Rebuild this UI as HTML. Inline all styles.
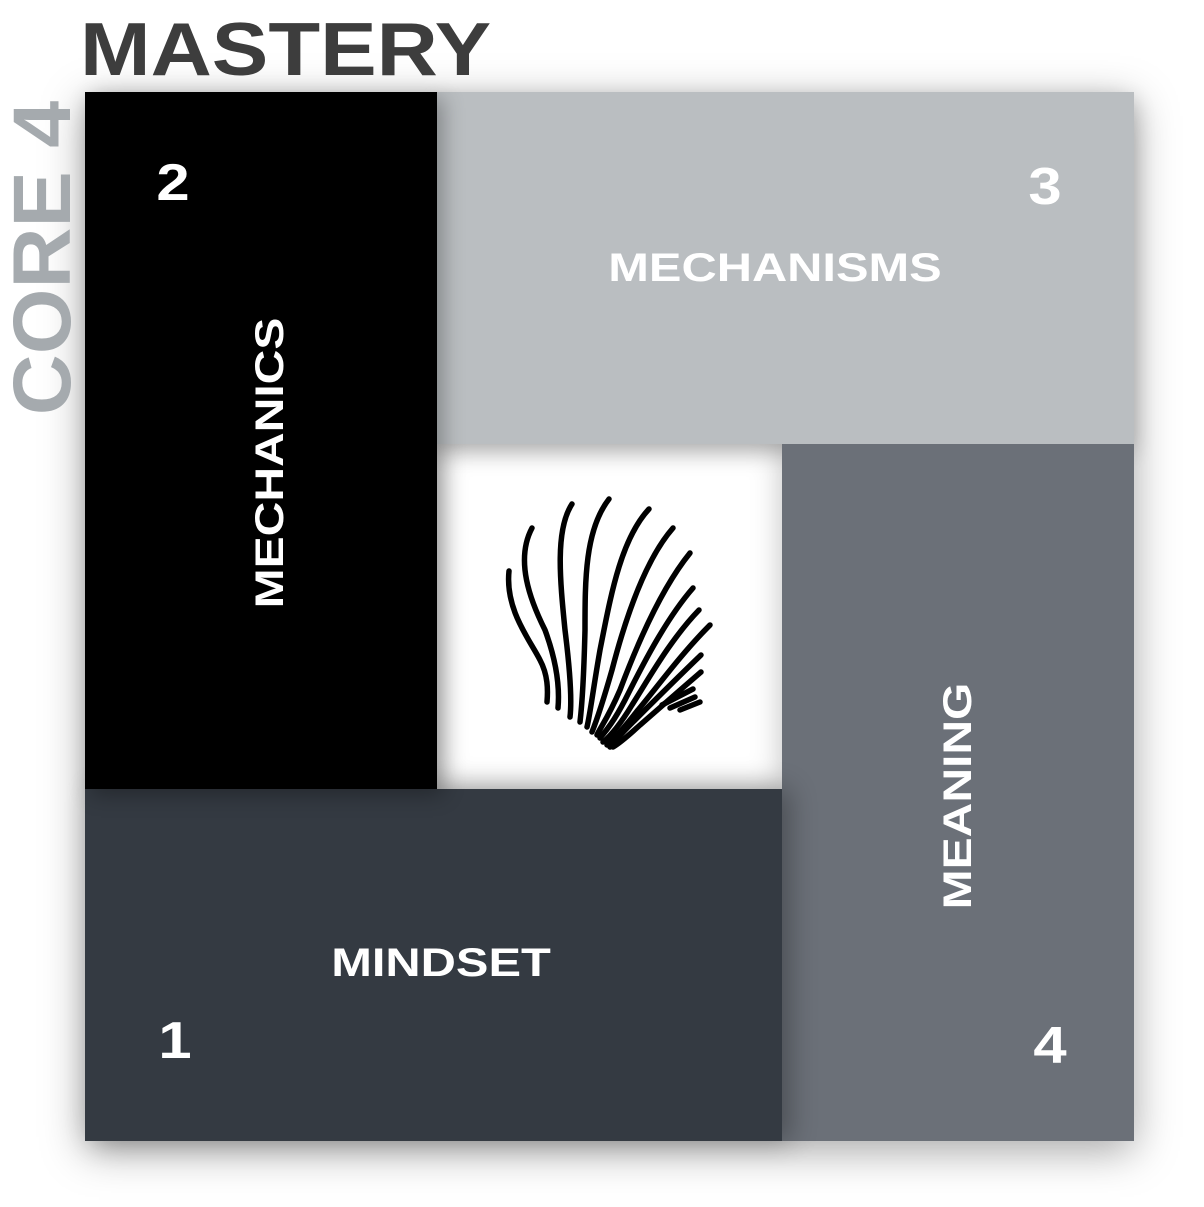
<!DOCTYPE html>
<html><head><style>
body{margin:0;width:1204px;height:1207px;background:#fff;position:relative;overflow:hidden;font-family:"Liberation Sans",sans-serif;font-weight:bold}
.b{position:absolute}
.t{position:absolute;color:#fff;white-space:nowrap}
.n{position:absolute;color:#fff;font-size:52px;line-height:52px;transform:translate(-50%,-50%) scaleX(1.15)}
</style></head><body>
<div class="b" style="left:85px;top:92px;width:1049px;height:1049px;box-shadow:0 10px 40px rgba(0,0,0,0.35)"></div>
<div class="b" style="left:437px;top:444px;width:345px;height:345px;background:#fff;box-shadow:inset 0 0 30px rgba(0,0,0,0.25)"></div>
<div class="b" style="left:437px;top:92px;width:697px;height:352px;background:#babec1;box-shadow:0 8px 20px rgba(0,0,0,0.2)"></div>
<div class="b" style="left:782px;top:444px;width:352px;height:697px;background:#6b7078"></div>
<div class="b" style="left:85px;top:789px;width:697px;height:352px;background:#343a42;box-shadow:8px 0 25px rgba(0,0,0,0.3)"></div>
<div class="b" style="left:85px;top:92px;width:352px;height:697px;background:#000;box-shadow:6px 6px 20px rgba(0,0,0,0.3)"></div>

<div class="t" style="left:80px;top:5px;font-size:75px;color:#3d3d3d;transform:scaleX(1.13);transform-origin:0 0;line-height:88px">MASTERY</div>
<div class="t" style="left:43px;top:258px;font-size:82px;color:#a5aaae;line-height:80px;transform:translate(-50%,-50%) rotate(-90deg) scaleX(1.03)">CORE 4</div>

<div class="n" style="left:173px;top:183px">2</div>
<div class="n" style="left:1045px;top:187px">3</div>
<div class="n" style="left:175px;top:1041px">1</div>
<div class="n" style="left:1050px;top:1046px">4</div>

<div class="t" style="left:775px;top:268px;font-size:40px;line-height:40px;transform:translate(-50%,-50%) scaleX(1.22)">MECHANISMS</div>
<div class="t" style="left:441px;top:963px;font-size:40px;line-height:40px;transform:translate(-50%,-50%) scaleX(1.22)">MINDSET</div>
<div class="t" style="left:270px;top:463px;font-size:40px;line-height:40px;transform:translate(-50%,-50%) rotate(-90deg) scaleX(1.2)">MECHANICS</div>
<div class="t" style="left:958px;top:796px;font-size:40px;line-height:40px;transform:translate(-50%,-50%) rotate(-90deg) scaleX(1.2)">MEANING</div>

<svg class="b" style="left:0;top:0" width="1204" height="1207">
<g fill="none" stroke="#000" stroke-width="5.5" stroke-linecap="round">
<path d="M509,571 C505,610 530,640 540,660 C548,675 548,690 547,702"/>
<path d="M532,528 C515,560 530,600 545,630 C556,660 560,685 558,708"/>
<path d="M572,504 C555,530 560,580 565,630 C570,670 572,700 570,717"/>
<path d="M609,499 C585,530 585,580 585,630 C584,670 582,705 580,722"/>
<path d="M649,509 C620,540 610,600 600,650 C593,690 590,715 587,727"/>
<path d="M673,528 C645,560 625,620 612,670 C602,705 596,722 592,732"/>
<path d="M690,553 C660,590 635,650 620,690 C608,718 600,728 597,735"/>
<path d="M693,588 C665,620 640,670 625,700 C612,725 604,733 600,738"/>
<path d="M699,610 C670,640 648,680 632,705 C618,728 608,738 603,742"/>
<path d="M710,625 C680,655 655,690 638,710 C624,728 613,740 607,745"/>
<path d="M701,655 C675,680 650,705 635,720 C622,733 614,742 610,747"/>
<path d="M701,672 C680,690 655,712 640,725 C628,736 618,744 613,747"/>
<path d="M693,689 L662,705"/>
<path d="M695,697 L670,708"/>
<path d="M700,702 L680,710"/>
</g>
</svg>
</body></html>
